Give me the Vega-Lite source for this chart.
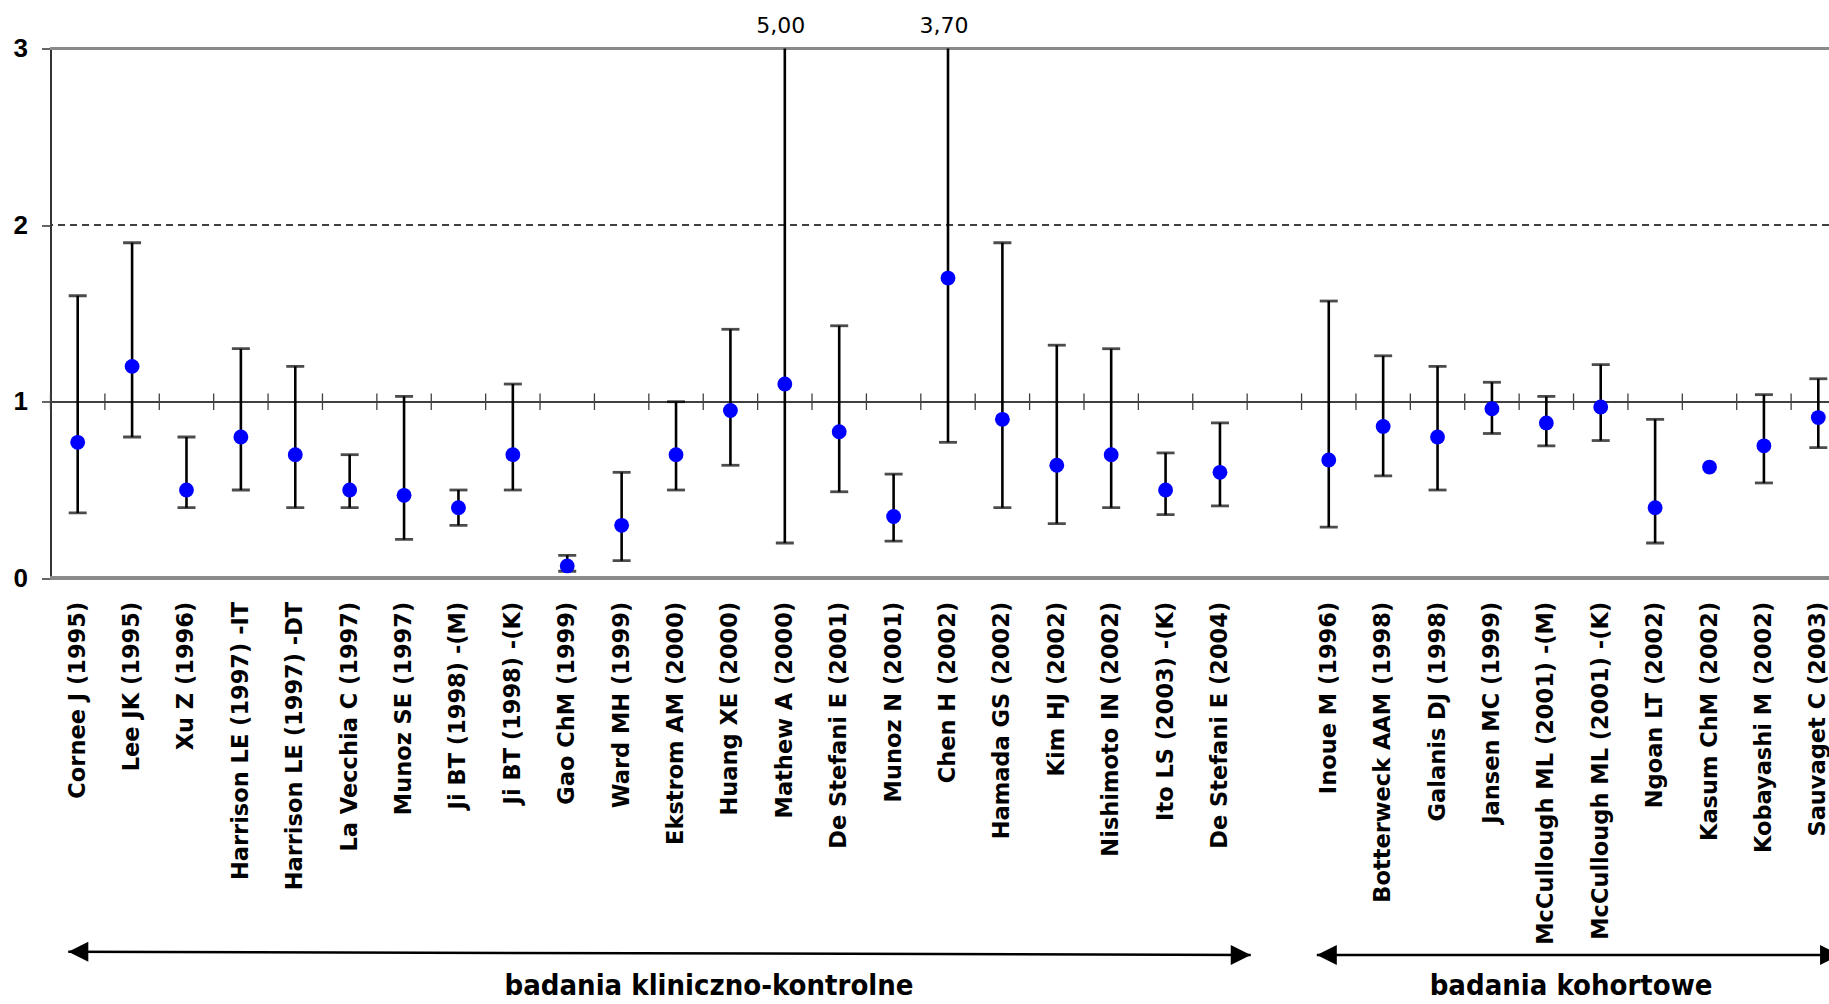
{
  "$schema": "https://vega.github.io/schema/vega-lite/v6.json",
  "autosize": {"type": "none"},
  "padding": {"left": 50.5, "top": 48.5, "right": 0, "bottom": 425.7},
  "width": 1778.5,
  "height": 529.8,
  "background": "white",
  "config": {
    "view": {"stroke": null},
    "locale": {"number": {"decimal": ",", "thousands": ".", "grouping": [3], "currency": ["", " zł"]}}
  },
  "data": {"values": [
    {"study": "Cornee J (1995)", "or": 0.77, "lo": 0.37, "hi": 1.60},
    {"study": "Lee JK (1995)", "or": 1.20, "lo": 0.80, "hi": 1.90},
    {"study": "Xu Z (1996)", "or": 0.50, "lo": 0.40, "hi": 0.80},
    {"study": "Harrison LE (1997) -IT", "or": 0.80, "lo": 0.50, "hi": 1.30},
    {"study": "Harrison LE (1997) -DT", "or": 0.70, "lo": 0.40, "hi": 1.20},
    {"study": "La Vecchia C (1997)", "or": 0.50, "lo": 0.40, "hi": 0.70},
    {"study": "Munoz SE (1997)", "or": 0.47, "lo": 0.22, "hi": 1.03},
    {"study": "Ji BT (1998) -(M)", "or": 0.40, "lo": 0.30, "hi": 0.50},
    {"study": "Ji BT (1998) -(K)", "or": 0.70, "lo": 0.50, "hi": 1.10},
    {"study": "Gao ChM (1999)", "or": 0.07, "lo": 0.04, "hi": 0.13},
    {"study": "Ward MH (1999)", "or": 0.30, "lo": 0.10, "hi": 0.60},
    {"study": "Ekstrom AM (2000)", "or": 0.70, "lo": 0.50, "hi": 1.00},
    {"study": "Huang XE (2000)", "or": 0.95, "lo": 0.64, "hi": 1.41},
    {"study": "Mathew A (2000)", "or": 1.10, "lo": 0.20, "hi": 5.00},
    {"study": "De Stefani E (2001)", "or": 0.83, "lo": 0.49, "hi": 1.43},
    {"study": "Munoz N (2001)", "or": 0.35, "lo": 0.21, "hi": 0.59},
    {"study": "Chen H (2002)", "or": 1.70, "lo": 0.77, "hi": 3.70},
    {"study": "Hamada GS (2002)", "or": 0.90, "lo": 0.40, "hi": 1.90},
    {"study": "Kim HJ (2002)", "or": 0.64, "lo": 0.31, "hi": 1.32},
    {"study": "Nishimoto IN (2002)", "or": 0.70, "lo": 0.40, "hi": 1.30},
    {"study": "Ito LS (2003) -(K)", "or": 0.50, "lo": 0.36, "hi": 0.71},
    {"study": "De Stefani E (2004)", "or": 0.60, "lo": 0.41, "hi": 0.88},
    {"study": " ", "or": null, "lo": null, "hi": null},
    {"study": "Inoue M (1996)", "or": 0.67, "lo": 0.29, "hi": 1.57},
    {"study": "Botterweck AAM (1998)", "or": 0.86, "lo": 0.58, "hi": 1.26},
    {"study": "Galanis DJ (1998)", "or": 0.80, "lo": 0.50, "hi": 1.20},
    {"study": "Jansen MC (1999)", "or": 0.96, "lo": 0.82, "hi": 1.11},
    {"study": "McCullough ML (2001) -(M)", "or": 0.88, "lo": 0.75, "hi": 1.03},
    {"study": "McCullough ML (2001) -(K)", "or": 0.97, "lo": 0.78, "hi": 1.21},
    {"study": "Ngoan LT (2002)", "or": 0.40, "lo": 0.20, "hi": 0.90},
    {"study": "Kasum ChM (2002)", "or": 0.63, "lo": null, "hi": null},
    {"study": "Kobayashi M (2002)", "or": 0.75, "lo": 0.54, "hi": 1.04},
    {"study": "Sauvaget C (2003)", "or": 0.91, "lo": 0.74, "hi": 1.13}
  ]},
  "encoding": {
    "x": {
      "field": "study", "type": "nominal",
      "scale": {
        "type": "band", "paddingInner": 0, "paddingOuter": 0, "range": [0, 1795],
        "domain": ["Cornee J (1995)", "Lee JK (1995)", "Xu Z (1996)", "Harrison LE (1997) -IT", "Harrison LE (1997) -DT", "La Vecchia C (1997)", "Munoz SE (1997)", "Ji BT (1998) -(M)", "Ji BT (1998) -(K)", "Gao ChM (1999)", "Ward MH (1999)", "Ekstrom AM (2000)", "Huang XE (2000)", "Mathew A (2000)", "De Stefani E (2001)", "Munoz N (2001)", "Chen H (2002)", "Hamada GS (2002)", "Kim HJ (2002)", "Nishimoto IN (2002)", "Ito LS (2003) -(K)", "De Stefani E (2004)", " ", "Inoue M (1996)", "Botterweck AAM (1998)", "Galanis DJ (1998)", "Jansen MC (1999)", "McCullough ML (2001) -(M)", "McCullough ML (2001) -(K)", "Ngoan LT (2002)", "Kasum ChM (2002)", "Kobayashi M (2002)", "Sauvaget C (2003)"]
      },
      "axis": {
        "title": null, "orient": "bottom", "domain": false, "ticks": false, "grid": false,
        "labelAngle": -90, "labelAlign": "right", "labelBaseline": "middle",
        "labelFont": "DejaVu Sans", "labelFontWeight": "bold", "labelFontSize": 22.5,
        "labelColor": "black", "labelPadding": 23, "labelLimit": 1000, "labelOverlap": false
      }
    }
  },
  "layer": [
    {
      "mark": {"type": "rule", "color": "#8a8a8a", "strokeWidth": 2.5},
      "encoding": {"x": null, "y": {"datum": 3, "type": "quantitative", "scale": {"domain": [0, 3], "nice": false, "zero": true},
        "axis": {"title": null, "values": [0, 1, 2, 3], "format": "d", "grid": false, "domainColor": "#333333", "domainWidth": 2,
          "tickColor": "#333333", "tickSize": 9, "tickWidth": 1.5, "labelFont": "Liberation Sans", "labelFontWeight": "bold",
          "labelFontSize": 26, "labelColor": "black", "labelPadding": 14, "labelBaseline": "middle"}}}
    },
    {
      "mark": {"type": "rule", "color": "#8a8a8a", "strokeWidth": 3},
      "encoding": {"x": null, "y": {"datum": 0, "type": "quantitative"}}
    },
    {
      "mark": {"type": "rule", "color": "#404040", "strokeWidth": 1, "strokeDash": [7, 5]},
      "encoding": {"x": null, "y": {"datum": 2, "type": "quantitative"}}
    },
    {
      "mark": {"type": "rule", "color": "#404040", "strokeWidth": 1.3},
      "encoding": {"x": null, "y": {"datum": 1, "type": "quantitative"}}
    },
    {
      "mark": {"type": "rule", "color": "#404040", "strokeWidth": 1.3},
      "encoding": {
        "x": {"field": "study", "type": "nominal", "bandPosition": 0},
        "y": {"datum": 0.953, "type": "quantitative"},
        "y2": {"datum": 1.047}
      }
    },
    {
      "mark": {"type": "rule", "color": "black", "strokeWidth": 2.6, "clip": true},
      "encoding": {
        "y": {"field": "lo", "type": "quantitative"},
        "y2": {"field": "hi"}
      }
    },
    {
      "mark": {"type": "tick", "color": "black", "size": 18, "thickness": 2.8, "orient": "horizontal", "clip": true},
      "encoding": {"y": {"field": "lo", "type": "quantitative"}}
    },
    {
      "mark": {"type": "tick", "color": "black", "size": 18, "thickness": 2.8, "orient": "horizontal", "clip": true},
      "encoding": {"y": {"field": "hi", "type": "quantitative"}}
    },
    {
      "mark": {"type": "point", "filled": true, "color": "#0000FF", "opacity": 1, "size": 220, "strokeWidth": 0},
      "encoding": {"y": {"field": "or", "type": "quantitative"}}
    },
    {
      "transform": [{"filter": "datum.hi > 3"}],
      "mark": {"type": "text", "font": "DejaVu Sans", "fontSize": 22, "color": "black", "baseline": "alphabetic", "align": "center", "dy": -15.5, "dx": -4},
      "encoding": {
        "y": {"datum": 3, "type": "quantitative"},
        "text": {"field": "hi", "type": "quantitative", "format": ".2f"}
      }
    },
    {
      "data": {"values": [{}]},
      "mark": {"type": "rule", "color": "black", "strokeWidth": 2.5},
      "encoding": {
        "x": {"datum": "Cornee J (1995)", "bandPosition": 0.327},
        "x2": {"datum": " ", "bandPosition": 0.066},
        "y": {"datum": -2.114, "type": "quantitative"},
        "y2": {"datum": -2.133}
      }
    },
    {
      "data": {"values": [{}]},
      "mark": {"type": "rule", "color": "black", "strokeWidth": 2.5},
      "encoding": {
        "x": {"datum": "Inoue M (1996)", "bandPosition": 0.28},
        "x2": {"datum": "Sauvaget C (2003)", "bandPosition": 0.9},
        "y": {"datum": -2.133, "type": "quantitative"},
        "y2": {"datum": -2.133}
      }
    },
    {
      "data": {"values": [{}]},
      "mark": {"type": "point", "shape": "M 0 0 L 2 -1 L 2 1 Z", "filled": true, "color": "black", "opacity": 1, "size": 400, "strokeWidth": 0},
      "encoding": {
        "x": {"datum": "Cornee J (1995)", "bandPosition": 0.327},
        "y": {"datum": -2.114, "type": "quantitative"}
      }
    },
    {
      "data": {"values": [{}]},
      "mark": {"type": "point", "shape": "M 0 0 L -2 -1 L -2 1 Z", "filled": true, "color": "black", "opacity": 1, "size": 400, "strokeWidth": 0},
      "encoding": {
        "x": {"datum": " ", "bandPosition": 0.066},
        "y": {"datum": -2.133, "type": "quantitative"}
      }
    },
    {
      "data": {"values": [{}]},
      "mark": {"type": "point", "shape": "M 0 0 L 2 -1 L 2 1 Z", "filled": true, "color": "black", "opacity": 1, "size": 400, "strokeWidth": 0},
      "encoding": {
        "x": {"datum": "Inoue M (1996)", "bandPosition": 0.28},
        "y": {"datum": -2.133, "type": "quantitative"}
      }
    },
    {
      "data": {"values": [{}]},
      "mark": {"type": "point", "shape": "M 0 0 L -2 -1 L -2 1 Z", "filled": true, "color": "black", "opacity": 1, "size": 400, "strokeWidth": 0},
      "encoding": {
        "x": {"datum": "Sauvaget C (2003)", "bandPosition": 0.9},
        "y": {"datum": -2.133, "type": "quantitative"}
      }
    },
    {
      "data": {"values": [{"label": "badania kliniczno-kontrolne"}]},
      "mark": {"type": "text", "font": "Liberation Sans Narrow, DejaVu Sans Condensed, Liberation Sans", "fontWeight": "bold", "fontSize": 29, "color": "black", "baseline": "alphabetic", "align": "center"},
      "encoding": {
        "x": {"datum": "Huang XE (2000)", "bandPosition": 0.107},
        "y": {"datum": -2.362, "type": "quantitative"},
        "text": {"field": "label"}
      }
    },
    {
      "data": {"values": [{"label": "badania kohortowe"}]},
      "mark": {"type": "text", "font": "Liberation Sans Narrow, DejaVu Sans Condensed, Liberation Sans", "fontWeight": "bold", "fontSize": 29, "color": "black", "baseline": "alphabetic", "align": "center"},
      "encoding": {
        "x": {"datum": "McCullough ML (2001) -(M)", "bandPosition": 0.955},
        "y": {"datum": -2.362, "type": "quantitative"},
        "text": {"field": "label"}
      }
    }
  ]
}
